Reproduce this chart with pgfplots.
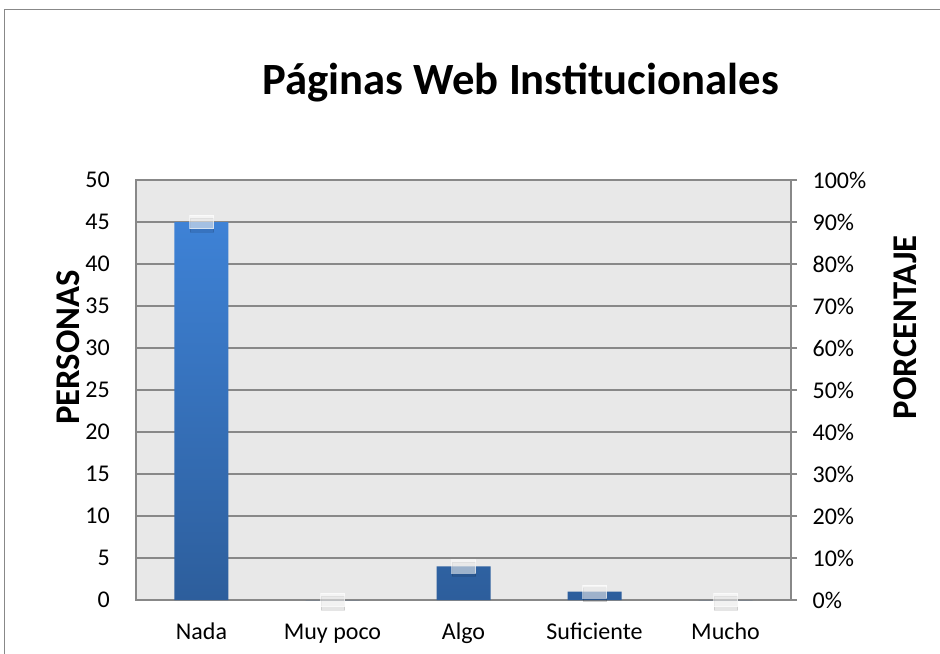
\documentclass[border=0pt]{standalone}
\usepackage{fontspec}
\setmainfont{Carlito}
\usepackage{pgfplots}
\pgfplotsset{compat=1.18}

\definecolor{barTop}{RGB}{62,130,214}
\definecolor{barBot}{RGB}{45,94,156}
\definecolor{gridc}{RGB}{136,136,136}
\definecolor{bgc}{RGB}{232,232,232}

\pgfdeclareplotmark{wbar}{%
  \fill[black,opacity=0.10] (-8.5pt,-7.5pt) rectangle (9pt,3pt);
  \fill[white,opacity=0.55] (-9pt,-5pt) rectangle (9pt,5pt);
}

\begin{document}
\begin{tikzpicture}[x=1pt,y=1pt]
\useasboundingbox (0,0) rectangle (705,490.5);
\draw[gridc, line width=0.75pt] (3,0) -- (3,483) -- (705,483);

\begin{axis}[
  at={(102pt,40.5pt)}, anchor=south west,
  scale only axis, width=491.25pt, height=315pt,
  xmin=-0.5, xmax=4.5, ymin=0, ymax=50,
  xtick={0,...,4},
  xticklabels={Nada,Muy poco,Algo,Suficiente,Mucho},
  ytick={0,5,...,50},
  ymajorgrids,
  grid style={gridc, line width=0.9pt},
  axis line style={gridc, line width=0.9pt},
  axis background/.style={fill=bgc},
  major tick length=0pt,
  ticklabel style={font=\fontsize{18}{20}\selectfont},
  /pgf/number format/assume math mode=true,
  yticklabel style={inner sep=0pt, anchor=east, xshift=-19.5pt},
  xticklabel style={inner sep=0pt, anchor=base, yshift=-29.5pt},
]
\addplot[ybar, bar width=40.5pt, bar shift=0pt, draw=none, top color=barTop, bottom color=barBot]
  coordinates {(0,45) (2,4) (3,1)};
\addplot[ybar, bar width=40.5pt, bar shift=0pt, draw=none, fill=barBot, forget plot]
  coordinates {(1,0) (4,0)};
\end{axis}

\begin{axis}[
  at={(102pt,40.5pt)}, anchor=south west,
  scale only axis, width=491.25pt, height=315pt,
  xmin=-0.5, xmax=4.5, ymin=0, ymax=100,
  axis x line=none,
  axis y line*=right,
  ytick={0,10,...,100},
  yticklabel={\pgfmathprintnumber{\tick}\%},
  axis line style={gridc, line width=0.9pt},
  tick style={gridc, line width=0.9pt},
  tick align=outside, major tick length=4.5pt,
  ticklabel style={font=\fontsize{18}{20}\selectfont},
  /pgf/number format/assume math mode=true,
  yticklabel style={inner sep=0pt, anchor=west, xshift=11.5pt},
  clip=false,
]
\addplot[only marks, mark=wbar] coordinates {(0,90) (1,0) (2,8) (3,2) (4,0)};
\end{axis}

\node[font=\fontsize{33.5}{36}\selectfont\bfseries] at (390.5,428.5) {Páginas Web Institucionales};
\node[font=\fontsize{26}{28}\selectfont\bfseries, rotate=90] at (51,230) {PERSONAS};
\node[font=\fontsize{26}{28}\selectfont\bfseries, rotate=90] at (679,245) {PORCENTAJE};
\end{tikzpicture}
\end{document}
